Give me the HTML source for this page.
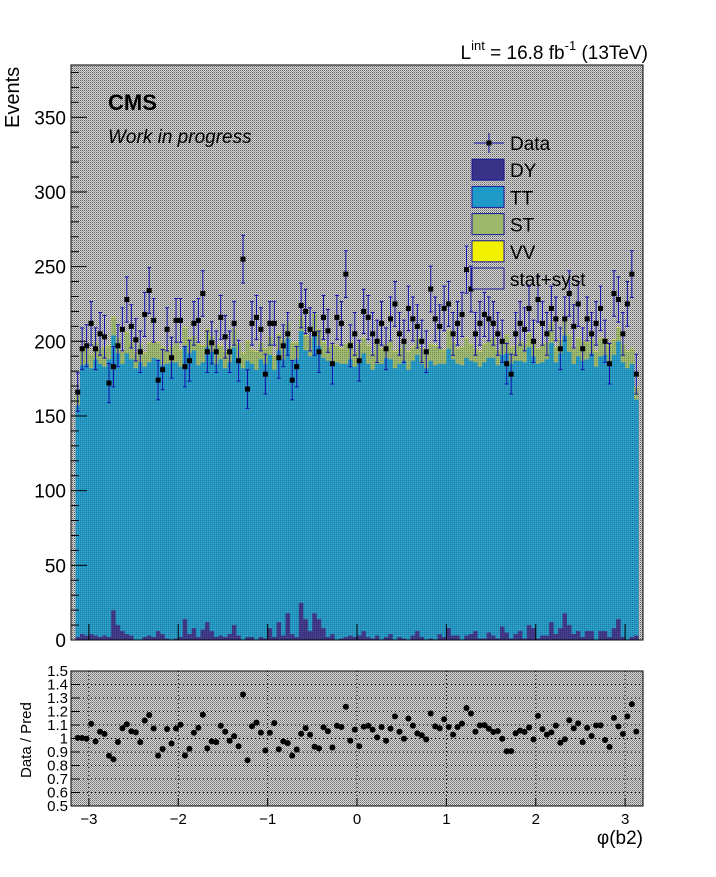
<!DOCTYPE html>
<html><head><meta charset="utf-8">
<style>
body{margin:0;background:#fff;font-family:"Liberation Sans",sans-serif;}
svg text{font-family:"Liberation Sans",sans-serif;}
</style></head>
<body>
<svg id="c" width="716" height="872">
<defs>
<pattern id="hatch" width="2" height="2" patternUnits="userSpaceOnUse">
<rect width="2" height="2" fill="#d8d8d8"/><rect width="1" height="1" fill="#707070"/><rect x="1" y="1" width="1" height="1" fill="#909090"/>
</pattern>
<pattern id="hatchT" width="2" height="2" patternUnits="userSpaceOnUse">
<rect width="1" height="1" fill="rgba(60,60,60,0.35)"/><rect x="1" y="1" width="1" height="1" fill="rgba(255,255,255,0.1)"/>
</pattern>
</defs>
<g id="main"></g>
<g id="ratio"></g>
</svg>
<script>
const dataVals=[166,195,197,212,195,205,203,172,183,197,208,228,210,201,193,218,234,214,174,181,208,189,214,214,183,187,212,214,232,193,199,193,216,203,193,212,187,255,168,212,216,208,178,212,212,189,197,205,174,183,224,220,208,205,193,216,207,185,216,212,245,197,205,187,220,216,205,200,212,195,215,225,205,200,222,215,210,200,193,235,215,210,222,225,205,212,218,248,235,205,212,218,215,212,205,200,185,178,205,212,208,222,200,228,212,205,222,215,195,215,232,210,225,195,215,205,212,222,200,185,232,228,205,225,245,178];
const ttVals=[155,180,182,178,185,183,180,186,184,182,179,188,185,182,186,181,183,187,182,180,184,186,185,181,183,188,186,182,179,184,187,183,185,180,182,186,184,182,185,183,181,186,184,183,179,182,185,184,183,186,182,180,184,187,183,181,185,182,186,184,183,185,181,184,186,183,180,182,185,187,184,182,183,186,181,184,185,183,182,186,184,181,183,187,185,182,184,186,183,180,182,185,184,186,183,182,187,184,183,181,185,186,182,184,183,185,187,182,184,186,183,181,184,185,182,186,183,184,185,182,183,186,184,182,183,158];
const stVals=[8,10,12,9,11,10,13,9,12,10,8,14,11,10,12,9,13,10,11,12,9,10,13,11,12,10,9,14,11,12,10,13,9,11,10,12,11,10,13,9,12,11,10,12,9,11,13,10,12,11,9,10,12,13,11,10,9,12,11,10,13,12,9,11,10,12,11,13,10,9,12,11,10,13,12,9,11,10,12,11,13,10,9,12,11,10,12,13,11,9,10,12,11,13,10,9,12,11,10,13,12,9,11,10,12,11,13,10,9,12,11,10,12,13,11,9,10,12,11,13,10,9,12,11,10,8];
const dyVals=[2,4,3,4,3,2,3,2,20,10,6,4,3,0,0,2,3,2,6,4,1,0,1,2,14,4,8,2,7,12,6,2,3,2,4,10,3,0,2,2,0,2,1,8,2,12,3,18,4,2,25,14,6,18,14,8,2,4,0,1,2,3,2,3,6,2,1,3,0,2,4,0,2,1,0,3,6,2,0,1,0,4,2,8,3,3,0,3,4,6,1,1,5,3,1,9,5,1,4,6,1,10,8,1,3,3,12,4,8,18,10,4,6,2,6,6,0,6,6,2,8,14,2,0,2,3];
const vvVals=new Array(126).fill(0.3);
const xTicks=[-3,-2,-1,0,1,2,3];
const xTickLabels=["\u22123","\u22122","\u22121","0","1","2","3"];
const yTicks=[0,50,100,150,200,250,300,350];
const rTicks=[0.5,0.6,0.7,0.8,0.9,1,1.1,1.2,1.3,1.4,1.5];

const NS="http://www.w3.org/2000/svg";
const X0=71,X1=643,XMIN=-3.2,XMAX=3.2;
const sx=v=>X0+(v-XMIN)/(XMAX-XMIN)*(X1-X0);
const MT=65,MB=640,YMAX=385;
const sy=v=>MB-v/YMAX*(MB-MT);
const RT=671,RB=806;
const ry=v=>RB-(v-0.5)/1.0*(RB-RT);
const n=dataVals.length, bw=0.05, lo=-3.15;
function el(tag,attrs,parent,txt){const e=document.createElementNS(NS,tag);for(const k in attrs)e.setAttribute(k,attrs[k]);if(txt!==undefined)e.textContent=txt;parent.appendChild(e);return e;}
const main=document.getElementById('main'), ratio=document.getElementById('ratio');

// background band (stat+syst covering)
let bg=el('rect',{x:X0,y:MT,width:X1-X0,height:MB-MT,fill:'url(#hatch)'},main);


// stacked bars
const layers=[[dyVals,'#3a3288'],[ttVals,'#1e9ac9'],[stVals,'#9cb86a'],[vvVals,'#f2f200']];
for(let i=0;i<n;i++){
  let base=0;const xa=sx(lo+i*bw),xb=sx(lo+(i+1)*bw);
  const names=['dy','tt','st','vv'];
  layers.forEach((L,j)=>{const v=L[0][i];
    const r=el('rect',{x:xa,y:sy(base+v),width:xb-xa+0.3,height:sy(base)-sy(base+v),fill:L[1]},main);
    
    
    base+=v;});
}
let ov=el('rect',{x:X0,y:MT,width:X1-X0,height:MB-MT,fill:'url(#hatchT)'},main);


// data points
for(let i=0;i<n;i++){
  const cx=sx(lo+(i+0.5)*bw),v=dataVals[i],e=Math.sqrt(v);
  const g=el('g',{},main);
  
  
  el('line',{x1:cx,x2:cx,y1:sy(v+e),y2:sy(v-e),stroke:'#1010b0','stroke-width':1},g);
  el('line',{x1:cx-2,x2:cx+2,y1:sy(v+e),y2:sy(v+e),stroke:'#1010b0'},g);
  el('line',{x1:cx-2,x2:cx+2,y1:sy(v-e),y2:sy(v-e),stroke:'#1010b0'},g);
  el('rect',{x:cx-2.5,y:sy(v)-2.5,width:5,height:5,fill:'#000'},g);
}
// frame & axes
el('rect',{x:X0,y:MT,width:X1-X0,height:MB-MT,fill:'none',stroke:'#000'},main);
yTicks.forEach(t=>{const y=sy(t);
  el('line',{x1:X0,x2:X0+16,y1:y,y2:y,stroke:'#000'},main);
  const tx=el('text',{x:66,y:y+7,'text-anchor':'end','font-size':19},main,t);
  
  
  for(let k=1;k<5;k++){const m=t+k*10;if(m<=YMAX){const yy=sy(m);el('line',{x1:X0,x2:X0+8,y1:yy,y2:yy,stroke:'#000'},main);}}
});
xTicks.forEach(t=>{const x=sx(t);el('line',{x1:x,x2:x,y1:MB,y2:MB-16,stroke:'#000'},main);});
let yt=el('text',{x:19,y:128,transform:'rotate(-90 19 128)','text-anchor':'start','font-size':20},main,'Events');

// labels
let cms=el('text',{x:108,y:110,'font-size':22,'font-weight':'bold'},main,'CMS');

let wip=el('text',{x:108,y:143,'font-size':19,'font-style':'italic'},main,'Work in progress');

let lumi=el('text',{x:648,y:59,'text-anchor':'end','font-size':19},main);

lumi.innerHTML='L<tspan dy="-9" font-size="13">int</tspan><tspan dy="9"> = 16.8 fb</tspan><tspan dy="-9" font-size="13">-1</tspan><tspan dy="9"> (13TeV)</tspan>';
// legend
const leg=[['Data',null],['DY','#3a3288'],['TT','#1e9ac9'],['ST','#9cb86a'],['VV','#f2f200'],['stat+syst','url(#hatch)']];
leg.forEach((l,i)=>{const y=143+i*27.2;
  const g=el('g',{},main);
  
  
  if(l[1]===null){el('line',{x1:474,x2:504,y1:y,y2:y,stroke:'#1010b0'},g);el('line',{x1:489,x2:489,y1:y-10,y2:y+10,stroke:'#1010b0'},g);el('rect',{x:486.5,y:y-2.5,width:5,height:5},g);}
  else el('rect',{x:472,y:y-11,width:32,height:21,fill:l[1],stroke:'#1a1a9a'},g);
  el('text',{x:510,y:y+7,'font-size':19},g,l[0]);
});
// ratio panel
let rb=el('rect',{x:X0,y:RT,width:X1-X0,height:RB-RT,fill:'url(#hatch)'},ratio);

rTicks.forEach(t=>{const y=ry(t);
  if(t>0.5&&t<1.5)el('line',{x1:X0,x2:X1,y1:y,y2:y,stroke:'#000','stroke-dasharray':'1,3'},ratio);
  el('line',{x1:X0,x2:X0+8,y1:y,y2:y,stroke:'#000'},ratio);
  const tx=el('text',{x:68,y:y+5,'text-anchor':'end','font-size':15},ratio,String(t));
  
});
xTicks.forEach((t,i)=>{const x=sx(t);
  el('line',{x1:x,x2:x,y1:RT,y2:RB,stroke:'#000','stroke-dasharray':'1,3'},ratio);
  el('line',{x1:x,x2:x,y1:RB,y2:RB-8,stroke:'#000'},ratio);
  const tx=el('text',{x:x,y:824,'text-anchor':'middle','font-size':15},ratio,xTickLabels[i]);
  
});
for(let i=0;i<n;i++){
  const pred=ttVals[i]+stVals[i]+dyVals[i]+vvVals[i];
  const r=Math.max(0.5,Math.min(1.5,dataVals[i]/pred));
  const c=el('circle',{cx:sx(lo+(i+0.5)*bw),cy:ry(r),r:3,fill:'#000'},ratio);
  
  
}
el('rect',{x:X0,y:RT,width:X1-X0,height:RB-RT,fill:'none',stroke:'#000'},ratio);
let rt=el('text',{x:31,y:778,transform:'rotate(-90 31 778)','font-size':15},ratio,'Data / Pred');

let xt=el('text',{x:643,y:844,'text-anchor':'end','font-size':19},ratio,'\u03c6(b2)');

</script>
</body></html>
